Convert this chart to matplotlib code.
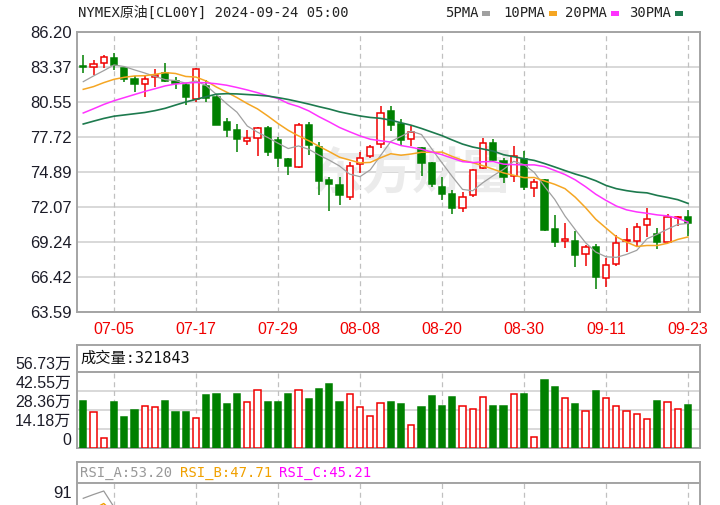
import matplotlib
matplotlib.use("Agg")
import matplotlib.pyplot as plt
from matplotlib.patches import Rectangle
import numpy as np

# trading days shown (07-01 .. 09-23)
dates = ["07-01", "07-02", "07-03", "07-05", "07-08", "07-09", "07-10", "07-11", "07-12", "07-15",
         "07-16", "07-17", "07-18", "07-19", "07-22", "07-23", "07-24", "07-25", "07-26", "07-29",
         "07-30", "07-31", "08-01", "08-02", "08-05", "08-06", "08-07", "08-08", "08-09", "08-12",
         "08-13", "08-14", "08-15", "08-16", "08-19", "08-20", "08-21", "08-22", "08-23", "08-26",
         "08-27", "08-28", "08-29", "08-30", "09-02", "09-03", "09-04", "09-05", "09-06", "09-09",
         "09-10", "09-11", "09-12", "09-13", "09-16", "09-17", "09-18", "09-19", "09-20", "09-23"]

opens = [83.45, 83.35, 83.67, 84.12, 83.27, 82.38, 81.98, 82.59, 82.91, 82.27,
         81.92, 80.80, 81.85, 80.98, 78.96, 78.29, 77.42, 77.62, 78.42, 77.48,
         75.94, 75.27, 78.69, 76.89, 74.25, 73.85, 72.85, 75.54, 76.19, 77.15,
         79.85, 78.80, 77.58, 76.86, 75.60, 73.71, 73.09, 72.01, 73.04, 75.25,
         77.21, 75.78, 74.60, 75.94, 73.58, 74.25, 70.27, 69.35, 69.35, 68.27,
         68.81, 66.31, 67.46, 69.30, 69.35, 70.62, 69.89, 69.27, 71.20, 71.29]
highs = [84.34, 83.94, 84.34, 84.50, 83.30, 82.65, 82.73, 83.19, 83.72, 82.54,
         82.06, 83.30, 82.35, 81.11, 79.23, 78.77, 78.29, 78.55, 78.61, 77.75,
         76.00, 78.83, 78.96, 77.35, 74.52, 74.52, 75.73, 76.54, 77.07, 80.23,
         80.20, 79.20, 78.59, 76.94, 75.73, 74.52, 73.44, 73.30, 75.14, 77.62,
         77.56, 75.99, 77.02, 76.59, 74.33, 74.30, 71.42, 70.75, 70.16, 69.00,
         69.08, 67.92, 69.82, 70.35, 70.75, 71.96, 70.35, 71.50, 71.34, 71.83]
lows = [82.86, 82.73, 83.27, 83.13, 82.20, 81.38, 80.93, 81.78, 82.19, 81.57,
        80.31, 80.55, 80.58, 78.65, 77.75, 76.54, 77.07, 76.16, 76.21, 75.32,
        74.65, 75.19, 76.29, 73.04, 71.77, 72.23, 72.63, 74.79, 75.99, 76.81,
        78.18, 77.03, 76.99, 74.60, 73.71, 72.63, 71.48, 71.64, 72.90, 75.14,
        75.73, 73.98, 74.06, 73.44, 72.90, 70.15, 68.86, 68.73, 67.20, 67.30,
        65.42, 65.63, 67.30, 68.46, 68.81, 69.67, 68.65, 69.20, 70.54, 69.70]
closes = [83.35, 83.62, 84.15, 83.54, 82.40, 81.98, 82.38, 82.73, 82.27, 82.06,
          80.93, 83.19, 80.90, 78.69, 78.29, 77.54, 77.62, 78.42, 76.54, 75.99,
          75.38, 78.69, 77.07, 74.19, 73.93, 73.04, 75.38, 76.05, 76.94, 79.69,
          78.72, 77.46, 78.12, 75.60, 73.90, 73.09, 71.96, 72.90, 75.06, 77.21,
          75.86, 74.52, 76.16, 73.71, 74.06, 70.21, 69.27, 69.45, 68.19, 68.81,
          66.44, 67.38, 69.19, 69.40, 70.43, 71.08, 69.27, 71.24, 71.28, 70.81]

ma5 = [82.19, 82.65, 83.08, 83.54, 83.41, 83.14, 82.89, 82.61, 82.35, 82.28,
       82.07, 82.24, 81.87, 81.15, 80.40, 79.72, 78.61, 78.11, 77.68, 77.22,
       76.79, 77.00, 76.73, 76.26, 75.85, 75.38, 74.72, 74.52, 75.07, 76.22,
       77.36, 77.77, 78.19, 77.92, 76.76, 75.63, 74.53, 73.49, 73.38, 74.04,
       74.60, 75.11, 75.76, 75.49, 74.86, 73.73, 72.68, 71.34, 70.24, 69.19,
       68.43, 68.05, 68.00, 68.24, 68.57, 69.50, 69.87, 70.28, 70.66, 70.74]
ma10 = [81.57, 81.79, 82.11, 82.38, 82.54, 82.65, 82.67, 82.78, 82.92, 82.85,
        82.61, 82.56, 82.24, 81.75, 81.34, 80.90, 80.42, 79.99, 79.42, 78.81,
        78.26, 77.81, 77.42, 76.97, 76.54, 76.09, 75.86, 75.63, 75.67, 76.04,
        76.37, 76.25, 76.35, 76.49, 76.49, 76.50, 76.15, 75.84, 75.65, 75.40,
        75.12, 74.82, 74.63, 74.44, 74.45, 74.17, 73.90, 73.55, 72.86, 72.02,
        71.08, 70.37, 69.67, 69.24, 68.88, 68.96, 68.96, 69.14, 69.45, 69.65]
ma20 = [79.66, 80.00, 80.35, 80.65, 80.90, 81.15, 81.40, 81.62, 81.85, 82.00,
        82.08, 82.12, 82.10, 82.02, 81.90, 81.72, 81.52, 81.30, 81.05, 80.83,
        80.43, 80.18, 79.83, 79.36, 78.94, 78.49, 78.14, 77.81, 77.54, 77.42,
        77.31, 77.03, 76.89, 76.73, 76.51, 76.29, 76.01, 75.73, 75.66, 75.72,
        75.74, 75.53, 75.49, 75.47, 75.47, 75.33, 75.02, 74.69, 74.26, 73.71,
        73.10, 72.60, 72.15, 71.84, 71.67, 71.56, 71.43, 71.35, 71.16, 70.84]
ma30 = [78.77, 79.00, 79.22, 79.40, 79.50, 79.60, 79.70, 79.85, 80.04, 80.30,
        80.55, 80.76, 80.98, 81.18, 81.22, 81.20, 81.15, 81.10, 81.03, 80.90,
        80.75, 80.57, 80.38, 80.17, 79.98, 79.75, 79.58, 79.42, 79.30, 79.23,
        79.08, 78.87, 78.67, 78.41, 78.12, 77.83, 77.48, 77.15, 76.91, 76.75,
        76.58, 76.29, 76.13, 75.97, 75.83, 75.58, 75.30, 75.01, 74.73, 74.49,
        74.19, 73.81, 73.55, 73.39, 73.27, 73.21, 73.00, 72.84, 72.66, 72.36]

# volume in 万
volumes = [35.4, 26.9, 7.5, 34.1, 23.3, 28.1, 31.6, 30.4, 35.4, 27.1,
           27.1, 22.1, 39.2, 40.4, 33.1, 40.4, 34.4, 43.4, 34.4, 34.4,
           40.4, 43.4, 36.6, 43.9, 47.7, 34.4, 40.2, 30.4, 24.1, 33.9,
           34.1, 32.9, 17.1, 30.4, 38.9, 31.6, 37.7, 31.4, 29.1, 38.4,
           31.6, 31.6, 40.2, 40.2, 8.3, 51.0, 45.9, 37.4, 32.9, 27.9,
           42.7, 37.4, 31.4, 27.9, 25.4, 21.8, 35.4, 34.1, 29.1, 32.18]

rsi_a = [84.7, 88.5, 92.0, 76.0, 62.0]
rsi_b = [70.0, 74.0, 79.5, 70.0, 60.0]

price_ticks = [63.59, 66.42, 69.24, 72.07, 74.89, 77.72, 80.55, 83.37, 86.20]
vol_ticks = [0, 14.18, 28.36, 42.55, 56.73]
vol_labels = ["0", "14.18万", "28.36万", "42.55万", "56.73万"]
tick_idx = list(range(3, 60, 8))

RED = "#f00000"
GREEN = "#008000"
GRID = "#d2d2d2"
VGRID = "#c0c0c0"
FRAME = "#a4a4a4"
LABEL = "#1c1c28"
MONO = ["DejaVu Sans Mono", "Noto Sans CJK SC"]
SANS = ["Liberation Sans", "Noto Sans CJK SC"]

W, H = 720, 505


def box(l, t, r, b):
    return [l / W, 1 - b / H, (r - l) / W, (b - t) / H]


def frame(a):
    for s in a.spines.values():
        s.set_color(FRAME)
        s.set_linewidth(1.4)


x = np.arange(len(closes))
o = np.array(opens)
c = np.array(closes)
up = c >= o
cols = np.where(up, RED, GREEN)
faces = np.where(up, "white", GREEN)
xlim = (-0.61, 60.17)

fig = plt.figure(figsize=(7.2, 5.05), dpi=100)

# ---- price panel
ax = fig.add_axes(box(77, 32, 700, 312))
ax.set_xlim(*xlim)
ax.set_ylim(price_ticks[0], price_ticks[-1])
ax.set_yticks(price_ticks)
ax.set_yticklabels(["%.2f" % v for v in price_ticks], family=SANS, fontsize=12, color=LABEL)
ax.set_xticks(tick_idx)
ax.set_xticklabels([dates[i] for i in tick_idx], family=SANS, fontsize=11.5, color=RED)
ax.tick_params(length=0, pad=4)
ax.tick_params(axis="x", pad=7)
ax.grid(axis="y", color=GRID, lw=1.2, ls="-")
ax.set_axisbelow(True)
for t in tick_idx:
    ax.axvline(t, color=VGRID, lw=0.9, ls=(0, (4, 3)), zorder=1)
frame(ax)

ax.text(32.1, 74.7, "东方财富", family="Noto Sans CJK SC", fontsize=36, fontweight="bold",
        style="italic", color="#ebebeb", ha="center", va="center", zorder=1.5)

ax.vlines(x, lows, highs, colors=cols, lw=1.1, zorder=3)
ax.bar(x, np.maximum(np.abs(c - o), 0.1), 0.62, bottom=np.minimum(o, c),
       facecolor=faces, edgecolor=cols, lw=1.1, zorder=4)

ax.plot(x, ma5, color="#a0a0a0", lw=0.9, zorder=5)
ax.plot(x, ma10, color="#f5a623", lw=1.1, zorder=5)
ax.plot(x, ma20, color="#ff33ff", lw=1.1, zorder=5)
ax.plot(x, ma30, color="#1d7a4e", lw=1.2, zorder=5)

# ---- header texts
fig.text(78 / W, 1 - 13 / H, "NYMEX原油[CL00Y] 2024-09-24 05:00", family=MONO,
         fontsize=10, color="#222222", va="center", ha="left")
legend = [("5PMA", "#a0a0a0", 445), ("10PMA", "#f5a623", 503),
          ("20PMA", "#ff33ff", 565), ("30PMA", "#1d7a4e", 629)]
for name, col, px in legend:
    t = fig.text(px / W, 1 - 13 / H, name, family=MONO, fontsize=10, color="#222222",
                 va="center", ha="left")
    px2 = px + 8.3 * len(name) + 4
    fig.add_artist(Rectangle((px2 / W, 1 - 16 / H), 8 / W, 5 / H, transform=fig.transFigure,
                             facecolor=col, edgecolor="none"))

# ---- volume panel
vh = fig.add_axes(box(77, 345, 700, 372))
vh.set_xticks([])
vh.set_yticks([])
frame(vh)
vh.text(0.005, 0.5, "成交量:321843", transform=vh.transAxes, family=MONO, fontsize=11,
        color="#111111", va="center", ha="left")

vax = fig.add_axes(box(77, 372, 700, 448))
vax.set_xlim(*xlim)
vax.set_ylim(0, vol_ticks[-1])
vax.bar(x, volumes, 0.62, facecolor=faces, edgecolor=cols, lw=1.1, zorder=3)
vax.set_yticks(vol_ticks)
vax.set_yticklabels(vol_labels, family=SANS, fontsize=11.5, color=LABEL)
for lab in vax.get_yticklabels():
    lab.set_va("bottom")
vax.set_xticks([])
vax.tick_params(length=0, pad=4)
vax.grid(axis="y", color=GRID, lw=1.2, ls="-")
vax.set_axisbelow(True)
for t in tick_idx:
    vax.axvline(t, color=VGRID, lw=0.9, ls=(0, (4, 3)), zorder=1)
frame(vax)

# ---- RSI panel (cut off at the bottom)
rh = fig.add_axes(box(77, 462, 700, 483))
rh.set_xticks([])
rh.set_yticks([])
frame(rh)
for txt, col, px in [("RSI_A:53.20", "#999999", 80), ("RSI_B:47.71", "#f0a000", 180),
                     ("RSI_C:45.21", "#ff00ff", 279)]:
    fig.text(px / W, 1 - 473 / H, txt, family=MONO, fontsize=10, color=col,
             va="center", ha="left")

rax = fig.add_axes(box(77, 483, 700, 583))
rax.set_xlim(*xlim)
rax.set_ylim(0, 100)
rax.plot(x[:len(rsi_a)], rsi_a, color="#999999", lw=0.9)
rax.plot(x[:len(rsi_b)], rsi_b, color="#f0a000", lw=1.0)
rax.set_yticks([91])
rax.set_yticklabels(["91"], family=SANS, fontsize=12, color=LABEL)
rax.set_xticks([])
rax.tick_params(length=0, pad=4)
for t in tick_idx:
    rax.axvline(t, color=VGRID, lw=0.9, ls=(0, (4, 3)), zorder=1)
frame(rax)

fig.savefig("out.png", dpi=100)
